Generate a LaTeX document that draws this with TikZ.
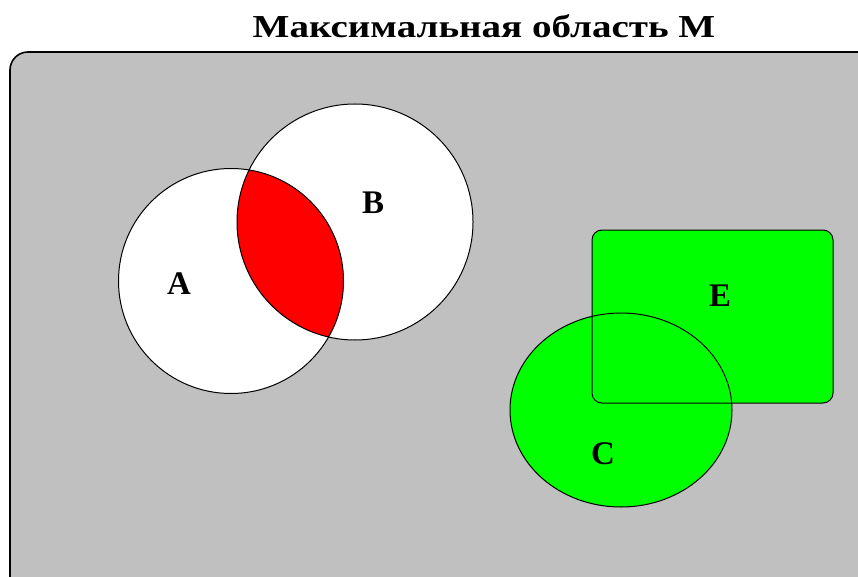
\documentclass[tikz,border=0pt]{standalone}
\usepackage{fontspec}
\setmainfont{Liberation Serif}
\usetikzlibrary{positioning}
\definecolor{silverbg}{RGB}{192,192,192}
\definecolor{limefill}{RGB}{0,255,0}

\begin{document}
\begin{tikzpicture}[x=1pt,y=-1pt]
\tikzset{
  outline/.style={black,line width=1pt},
  setname/.style={font=\fontsize{33}{36}\selectfont\bfseries,inner sep=0pt},
  setdisc/.style={circle,outline,inner sep=0pt,minimum size=#1}
}
\useasboundingbox (0,0) rectangle (858,577);
% title
\node[font=\fontsize{32}{36}\selectfont\bfseries,anchor=base] (title) at (484,38) {\scalebox{1.22}[1]{Максимальная область M}};
% universe M
\begin{scope}
  \clip (0,0) rectangle (858,577);
  \draw[fill=silverbg,line width=1.6pt,rounded corners=18pt] (10,52) rectangle (900,620);
\end{scope}
% sets A and B with red intersection
\node[setdisc=225pt,fill=white] (A) at (231,281) {};
\node[setdisc=236pt,fill=white] (B) at (355,222) {};
\begin{scope}
  \clip (231,281) circle [radius=112.5];
  \fill[red] (355,222) circle [radius=118];
\end{scope}
\draw[outline] (231,281) circle [radius=112.5];
\draw[outline] (355,222) circle [radius=118];
% sets E and C
\fill[limefill,rounded corners=10pt] (592,230) rectangle (833,403);
\fill[limefill] (621,410) ellipse [x radius=111, y radius=97];
\draw[outline,rounded corners=10pt] (592,230) rectangle (833,403);
\draw[outline] (621,410) ellipse [x radius=111, y radius=97];
% names
\node[setname] (labelA) at (179,284) {A};
\node[setname] (labelB) at (373,203) {B};
\node[setname] (labelE) at (720,296) {E};
\node[setname] (labelC) at (603,454) {C};
\end{tikzpicture}
\end{document}
